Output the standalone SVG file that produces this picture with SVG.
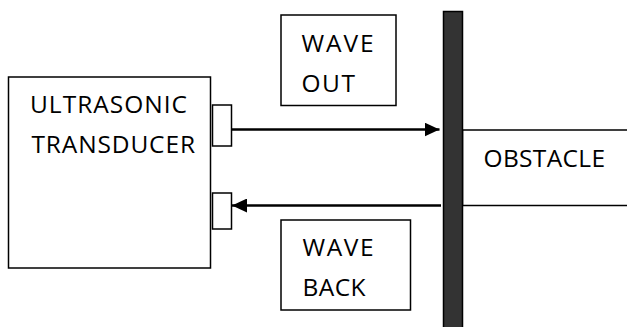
<svg xmlns="http://www.w3.org/2000/svg" width="627" height="327" viewBox="0 0 627 327">
<style>
.box{fill:#fff;stroke:#000;stroke-width:1.5}
.t{font-family:"Open Sans","Noto Sans","Liberation Sans",sans-serif;font-size:24.5px;fill:#000}
.ln{stroke:#000;stroke-width:2.4;fill:none}
</style>
<defs>
<marker id="ah" markerWidth="16" markerHeight="14" refX="15" refY="7" orient="auto" markerUnits="userSpaceOnUse">
<path d="M0,0 L15,7 L0,14 Z" fill="#000"/>
</marker>
</defs>
<rect width="627" height="327" fill="#fff"/>
<g id="transducer">
<rect class="box" x="8.5" y="77" width="202" height="191"/>
<text class="t" x="30" y="113" textLength="157" lengthAdjust="spacing">ULTRASONIC</text>
<text class="t" x="31.5" y="152.5" textLength="163.5" lengthAdjust="spacing">TRANSDUCER</text>
</g>
<g id="emitter">
<rect class="box" x="212.5" y="105" width="19" height="41"/>
</g>
<g id="receiver">
<rect class="box" x="212.5" y="193" width="19" height="36"/>
</g>
<g id="wave-out">
<rect class="box" x="281" y="15" width="115" height="90.5"/>
<text class="t" x="301.5" y="52" textLength="72" lengthAdjust="spacing">WAVE</text>
<text class="t" x="301.5" y="92" textLength="53.5" lengthAdjust="spacing">OUT</text>
</g>
<g id="wave-back">
<rect class="box" x="281" y="220" width="129.5" height="90"/>
<text class="t" x="302.5" y="255.5" textLength="71" lengthAdjust="spacing">WAVE</text>
<text class="t" x="302.5" y="295.5" textLength="63" lengthAdjust="spacing">BACK</text>
</g>
<g id="obstacle">
<rect x="462.5" y="130" width="166" height="75.5" fill="#fff" stroke="#000" stroke-width="1.5"/>
<text class="t" x="483.5" y="166.5" textLength="121.5" lengthAdjust="spacing">OBSTACLE</text>
</g>
<g id="obstacle-wall">
<rect x="443.5" y="11.5" width="19" height="320" fill="#333" stroke="#000" stroke-width="1.5"/>
</g>
<g id="connectors">
<line class="ln" x1="231.5" y1="129.5" x2="439.5" y2="129.5" marker-end="url(#ah)"/>
<line class="ln" x1="441" y1="205.5" x2="232" y2="205.5" marker-end="url(#ah)"/>
</g>
</svg>
